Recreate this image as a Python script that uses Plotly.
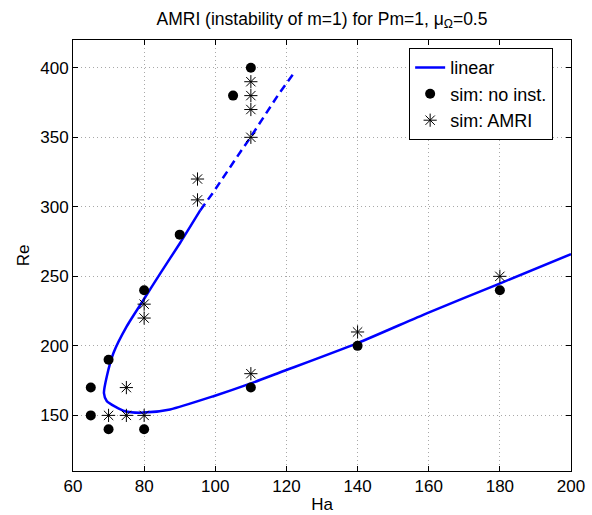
import plotly.graph_objects as go

# linear stability curve (solid part): upper branch -> nose -> lower branch
lin_ha = [95.8, 90.1, 84.5, 79.8, 75.1, 71.4, 69.5, 68.7, 69.5, 74.6, 79.8, 87.3, 99.5, 110.0, 118.3, 140.0, 159.6, 180.1, 200.0]
lin_re = [297.6, 274.0, 252.0, 233.0, 214.0, 195.0, 178.0, 166.0, 160.3, 153.0, 152.0, 154.3, 163.8, 173.0, 181.0, 202.0, 223.6, 245.0, 266.0]

# linear curve, extrapolated (dashed) part
ext_ha = [95.8, 99.5, 107.0, 109.9, 117.8, 122.3]
ext_re = [297.6, 310.7, 339.3, 350.0, 381.0, 397.0]

# simulations without instability
noinst_ha = [65, 65, 70, 70, 80, 80, 90, 105, 110, 110, 140, 180]
noinst_re = [170, 150, 140, 190, 140, 240, 280, 380, 400, 170, 200, 240]

# simulations with AMRI
amri_ha = [70, 75, 75, 80, 80, 80, 95, 95, 110, 110, 110, 110, 110, 140, 180]
amri_re = [150, 170, 150, 150, 230, 220, 320, 305, 390, 380, 370, 350, 180, 210, 250]

x_ticks = [60, 80, 100, 120, 140, 160, 180, 200]
y_ticks = [150, 200, 250, 300, 350, 400]

FONT = "Liberation Sans, Arial, sans-serif"
fig = go.Figure()
fig.add_trace(go.Scatter(x=lin_ha, y=lin_re, mode="lines", name="linear",
                         line=dict(color="#0000ff", width=2.5, shape="spline", smoothing=0.6)))
fig.add_trace(go.Scatter(x=ext_ha, y=ext_re, mode="lines", showlegend=False,
                         line=dict(color="#0000ff", width=2.5, dash="8px,5px")))
fig.add_trace(go.Scatter(x=noinst_ha, y=noinst_re, mode="markers", name="sim: no inst.",
                         marker=dict(symbol="circle", size=10, color="black")))
fig.add_trace(go.Scatter(x=amri_ha, y=amri_re, mode="markers", name="sim: AMRI",
                         marker=dict(symbol="asterisk-open", size=11, color="black",
                                     line=dict(color="black", width=1))))

axis_common = dict(showline=True, linecolor="black", linewidth=1, mirror="ticks",
                   ticks="inside", ticklen=5, tickcolor="black", automargin=False,
                   showgrid=True, gridcolor="#a8a8a8", griddash="1px,3px", gridwidth=1,
                   zeroline=False, tickfont=dict(family=FONT, size=17, color="black"))
fig.update_xaxes(range=[60, 200], tickvals=x_ticks,
                 title=dict(text="Ha", font=dict(family=FONT, size=17, color="black"), standoff=2),
                 **axis_common)
fig.update_yaxes(range=[110, 420], tickvals=y_ticks,
                 title=dict(text="Re", font=dict(family=FONT, size=17, color="black"), standoff=6),
                 **axis_common)
fig.update_layout(
    width=592, height=515,
    margin=dict(l=73, r=21, t=40, b=44),
    paper_bgcolor="white", plot_bgcolor="white",
    title=dict(text="AMRI (instability of m=1) for Pm=1, μ<sub>Ω</sub>=0.5",
               x=(73 + 571) / 2 / 592, xanchor="center", y=0.964, yanchor="middle",
               font=dict(family=FONT, size=17.5, color="black")),
    legend=dict(x=0.675, y=0.981, xanchor="left", yanchor="top",
                bordercolor="black", borderwidth=1, bgcolor="white",
                font=dict(family=FONT, size=18, color="black"), tracegroupgap=0),
    showlegend=True,
)
fig.write_html("out.html", config={"displayModeBar": False},
               post_script="document.body.style.margin='0px';")
